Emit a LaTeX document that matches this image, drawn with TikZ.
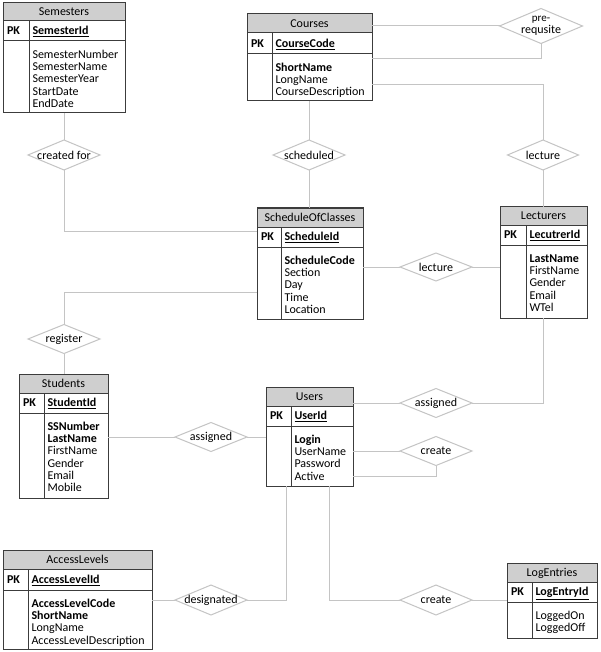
\documentclass[tikz,border=0pt]{standalone}
\usepackage{fontspec}
\setmainfont{Carlito}
\usetikzlibrary{fit,calc}
\definecolor{bordc}{HTML}{3C3C3C}
\definecolor{hdrc}{HTML}{CFCFCF}
\definecolor{connc}{HTML}{C4C4C4}
\newcommand\entfont{\fontsize{12}{12.2}\selectfont}
\newcommand\relfont{\fontsize{12}{12}\selectfont}
\tikzset{
 entborder/.style={draw=bordc, line width=1pt, inner sep=0pt, outer sep=0pt},
 entline/.style={draw=bordc, line width=1pt},
 hdrfill/.style={fill=hdrc},
 conn/.style={draw=connc, line width=1pt},
 relnode/.style={inner sep=0pt, outer sep=0pt, font=\relfont, align=center},
 reldraw/.style={draw=connc, line width=1pt, fill=white},
 txt/.style={inner sep=0pt, outer sep=0pt, anchor=base west, font=\entfont},
 ttl/.style={inner sep=0pt, outer sep=0pt, anchor=base, font=\entfont},
}
\newcommand\entbox[8]{%
 \def\eX{#2}\def\eY{#3}\def\eXX{#4}\def\eH{#5}\def\eP{#6}\def\eYY{#7}\def\eD{#8}%
 \fill[hdrfill] (#2,#3) rectangle (#4,#5);
 \node[entborder, fit={(#2,#3)(#4,#7)}] (#1) {};
 \draw[entline] (#2,#5) -- (#4,#5) (#2,#6) -- (#4,#6) (#8,#5) -- (#8,#7);
}
\newcommand\enttext[4]{%
 \node[ttl] (#1-title) at ({(\eX+\eXX)/2},{(\eY+\eH)/2+3.8}) {#2};
 \node[txt, font=\entfont\bfseries] (#1-pk) at (\eX+4,{(\eH+\eP)/2+3.9}) {PK};
 \node[txt] (#1-key) at (\eD+3.5,{(\eH+\eP)/2+3.9}) {\underline{\textbf{#3}}};
 \foreach \t [count=\i] in {#4} {
  \node[txt] (#1-b\i) at (\eD+3.5,{\eP+17.5+(\i-1)*12.2}) {\t};
 }
}
\newcommand\relship[6]{%
 \path[reldraw] (#2-#4/2,#3) -- (#2,#3-#5/2) -- (#2+#4/2,#3) -- (#2,#3+#5/2) -- cycle;
 \node[relnode, minimum width=#4pt, minimum height=#5pt] (#1) at (#2,#3) {#6};
}
\begin{document}
\begin{tikzpicture}[x=1pt,y=-1pt]
\useasboundingbox[fill=white] (0,0) rectangle (600,652);

\entbox{sem}{3}{3}{125}{21}{41}{113}{29}
\enttext{sem}{Semesters}{SemesterId}{SemesterNumber,SemesterName,SemesterYear,StartDate,EndDate}

\entbox{crs}{247}{14}{372}{33}{54}{101}{272}
\enttext{crs}{Courses}{CourseCode}{\textbf{ShortName},LongName,CourseDescription}

\entbox{soc}{257}{208}{363}{227}{247}{319}{281}
\enttext{soc}{ScheduleOfClasses}{ScheduleId}{\textbf{ScheduleCode},Section,Day,Time,Location}

\entbox{lec}{500}{207}{587}{225}{245}{318}{526}
\enttext{lec}{Lecturers}{LecutrerId}{\textbf{LastName},FirstName,Gender,Email,WTel}

\entbox{stu}{19}{374}{108}{393}{413}{498}{44}
\enttext{stu}{Students}{StudentId}{\textbf{SSNumber},\textbf{LastName},FirstName,Gender,Email,Mobile}

\entbox{usr}{266}{387}{353}{406}{426}{486}{291}
\enttext{usr}{Users}{UserId}{\textbf{Login},UserName,Password,Active}

\entbox{acc}{3}{550}{152}{569}{590}{649}{28}
\enttext{acc}{AccessLevels}{AccessLevelId}{\textbf{AccessLevelCode},\textbf{ShortName},LongName,AccessLevelDescription}

\entbox{log}{507}{563}{597}{582}{602}{638}{532}
\enttext{log}{LogEntries}{LogEntryId}{LoggedOn,LoggedOff}

\relship{pre}{541}{26}{83}{35}{\fontsize{11}{11}\selectfont pre-\\requsite}
\relship{cf}{64}{155}{72}{30}{created for}
\relship{sch}{309}{155}{72}{30}{scheduled}
\relship{lc1}{543}{155}{71}{30}{lecture}
\relship{lc2}{436}{267}{72}{28}{lecture}
\relship{reg}{64}{339}{72}{29}{register}
\relship{as1}{211}{437}{72}{29}{assigned}
\relship{as2}{436}{403}{72}{29}{assigned}
\relship{cr1}{436}{451}{72}{29}{create}
\relship{des}{211}{600}{72}{30}{designated}
\relship{cr2}{436}{600}{72}{30}{create}

\draw[conn] (pre.west) -- (pre.west -| crs.east);
\draw[conn] (pre.south) |- ($(crs.north east)+(0,45)$);
\draw[conn] ($(crs.north east)+(0,71)$) -| (lc1.north);
\draw[conn] (lc1.south) -- (lc1.south |- lec.north);
\draw[conn] (crs.south -| sch.north) -- (sch.north);
\draw[conn] (sch.south) -- (sch.south |- soc.north);
\draw[conn] (sem.south -| cf.north) -- (cf.north);
\draw[conn] (cf.south) |- ($(soc.north west)+(0,23)$);
\draw[conn] ($(soc.north west)+(0,84)$) -| (reg.north);
\draw[conn] (reg.south) -- (reg.south |- stu.north);
\draw[conn] (lc2.west) -- (lc2.west -| soc.east);
\draw[conn] (lc2.east) -- (lc2.east -| lec.west);
\draw[conn] (as1.west) -- (as1.west -| stu.east);
\draw[conn] (as1.east) -- (as1.east -| usr.west);
\draw[conn] (as2.west) -- (as2.west -| usr.east);
\draw[conn] (as2.east) -| (lec.south);
\draw[conn] (cr1.west) -- (cr1.west -| usr.east);
\draw[conn] (cr1.south) |- ($(usr.north east)+(0,89)$);
\draw[conn] ($(usr.south west)+(20,0)$) |- (des.east);
\draw[conn] (des.west) -- (des.west -| acc.east);
\draw[conn] ($(usr.south west)+(63,0)$) |- (cr2.west);
\draw[conn] (cr2.east) -- (cr2.east -| log.west);
\end{tikzpicture}
\end{document}
